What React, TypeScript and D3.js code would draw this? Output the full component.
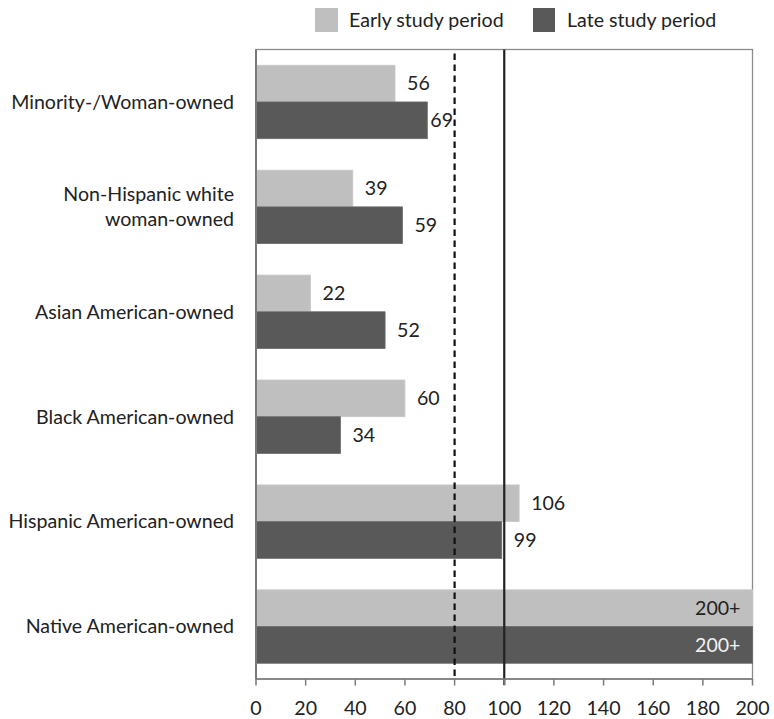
import React from "react";
import * as d3 from "d3";

const categories = [
  ["Minority-/Woman-owned"],
  ["Non-Hispanic white", "woman-owned"],
  ["Asian American-owned"],
  ["Black American-owned"],
  ["Hispanic American-owned"],
  ["Native American-owned"],
];
const earlyValues = [56, 39, 22, 60, 106, 200];
const lateValues = [69, 59, 52, 34, 99, 200];
const earlyLabels = ["56", "39", "22", "60", "106", "200+"];
const lateLabels = ["69", "59", "52", "34", "99", "200+"];
const xTicks = [0, 20, 40, 60, 80, 100, 120, 140, 160, 180, 200];
const seriesNames = ["Early study period", "Late study period"];

const W = 774;
const H = 719;
const left = 256;
const right = 752.5;
const top = 49.5;
const bottom = 679;
const FONT = "Lato, 'DejaVu Sans', sans-serif";
const FS = 19.6;
const LIGHT = "#bfbfbf";
const DARK = "#595959";

export default function App() {
  const x = d3.scaleLinear().domain([0, 200]).range([left, right]);
  const y = d3
    .scaleBand<number>()
    .domain(d3.range(categories.length))
    .range([top, bottom])
    .paddingInner(0.3)
    .paddingOuter(0.15);
  const bw = y.bandwidth() / 2;

  // place label after the bar; if it would run into the dashed 80 line, tuck it closer
  const labelX = (v: number, txt: string) => {
    const lx = x(v) + 12;
    const w = txt.length * 10.6;
    if (lx < x(80) && lx + w > x(80) - 2) return x(v) + 3;
    return lx;
  };

  return (
    <svg
      width={W}
      height={H}
      style={{ position: "absolute", left: 0, top: 0, background: "#fff" }}
      fontFamily={FONT}
    >
      {/* legend */}
      <rect x={315} y={8} width={23} height={24} fill={LIGHT} />
      <text x={349} y={20} dy="0.35em" fontSize={FS} fill="#222">
        {seriesNames[0]}
      </text>
      <rect x={533} y={8} width={22} height={24} fill={DARK} />
      <text x={567} y={20} dy="0.35em" fontSize={FS} fill="#222">
        {seriesNames[1]}
      </text>

      {/* plot frame */}
      <rect x={left} y={top} width={right - left} height={bottom - top} fill="none" stroke="#8c8c8c" strokeWidth={1.3} />

      {/* bars */}
      {categories.map((_, i) => {
        const y0 = y(i)!;
        return (
          <g key={i}>
            <rect x={x(0)} y={y0} width={x(earlyValues[i]) - x(0)} height={bw} fill={LIGHT} stroke="#c9c9c9" strokeWidth={0.8} />
            <rect x={x(0)} y={y0 + bw} width={x(lateValues[i]) - x(0)} height={bw} fill={DARK} stroke="#6a6a6a" strokeWidth={0.8} />
          </g>
        );
      })}

      {/* reference lines */}
      <line x1={x(80)} x2={x(80)} y1={top + 4} y2={bottom} stroke="#111" strokeWidth={2.2} strokeDasharray="6.5,4.5" />
      <line x1={x(100)} x2={x(100)} y1={top} y2={bottom + 6} stroke="#222" strokeWidth={2.2} />

      {/* value labels */}
      {categories.map((_, i) => {
        const y0 = y(i)!;
        const inside = earlyValues[i] >= 200;
        return (
          <g key={"l" + i} fontSize={FS}>
            <text
              x={inside ? x(200) - 12 : labelX(earlyValues[i], earlyLabels[i])}
              y={y0 + bw / 2}
              dy="0.35em"
              textAnchor={inside ? "end" : "start"}
              fill="#222"
            >
              {earlyLabels[i]}
            </text>
            <text
              x={inside ? x(200) - 12 : labelX(lateValues[i], lateLabels[i])}
              y={y0 + bw * 1.5}
              dy="0.35em"
              textAnchor={inside ? "end" : "start"}
              fill={inside ? "#f2f2f2" : "#222"}
            >
              {lateLabels[i]}
            </text>
          </g>
        );
      })}

      {/* category labels */}
      {categories.map((lines, i) => {
        const cy = y(i)! + y.bandwidth() / 2;
        const lh = 25;
        return (
          <text key={"c" + i} textAnchor="end" fontSize={FS} fill="#222">
            {lines.map((ln, j) => (
              <tspan key={j} x={234} y={cy + (j - (lines.length - 1) / 2) * lh} dy="0.35em">
                {ln}
              </tspan>
            ))}
          </text>
        );
      })}

      {/* left axis line */}
      <line x1={left} x2={left} y1={top} y2={bottom} stroke="#7a7a7a" strokeWidth={2} />
      {/* bottom axis */}
      <line x1={left} x2={right} y1={bottom} y2={bottom} stroke="#7a7a7a" strokeWidth={1.5} />
      {xTicks.map((t) => (
        <g key={"t" + t}>
          <line x1={x(t)} x2={x(t)} y1={bottom} y2={bottom + 6.5} stroke="#7a7a7a" strokeWidth={1.5} />
          <text x={x(t)} y={bottom + 29} dy="0.35em" textAnchor="middle" fontSize={FS} fill="#222">
            {t}
          </text>
        </g>
      ))}
    </svg>
  );
}
